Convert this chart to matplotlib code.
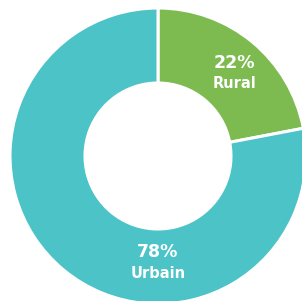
import matplotlib
matplotlib.use("Agg")
import matplotlib.pyplot as plt

categories = ["Rural", "Urbain"]
values = [22, 78]
colors = ["#7DBB50", "#4CC3C7"]

W, H = 302, 301
fig = plt.figure(figsize=(W / 100, H / 100), dpi=100)
ax = fig.add_axes([0, 0, 1, 1])
ax.set_xlim(0, W)
ax.set_ylim(0, H)
ax.set_aspect("equal")
ax.axis("off")

cx, cy = 158, H - 156
R = 148
inner = 73

ax.pie(values, colors=colors, startangle=90, counterclock=False,
       center=(cx, cy), radius=R,
       wedgeprops=dict(width=R - inner, edgecolor="white", linewidth=2.2))
ax.set_xlim(0, W)
ax.set_ylim(0, H)

font = "DejaVu Sans"
label_pos = [(234, H - 63, H - 83), (158, H - 252, H - 274)]
for (x, y1, y2), cat, v in zip(label_pos, categories, values):
    ax.text(x, y1, f"{v}%", ha="center", va="center", color="white",
            fontsize=12.5, fontweight="bold", family=font)
    ax.text(x, y2, cat, ha="center", va="center", color="white",
            fontsize=10.5, fontweight="bold", family=font)

fig.savefig("out.png", dpi=100)
